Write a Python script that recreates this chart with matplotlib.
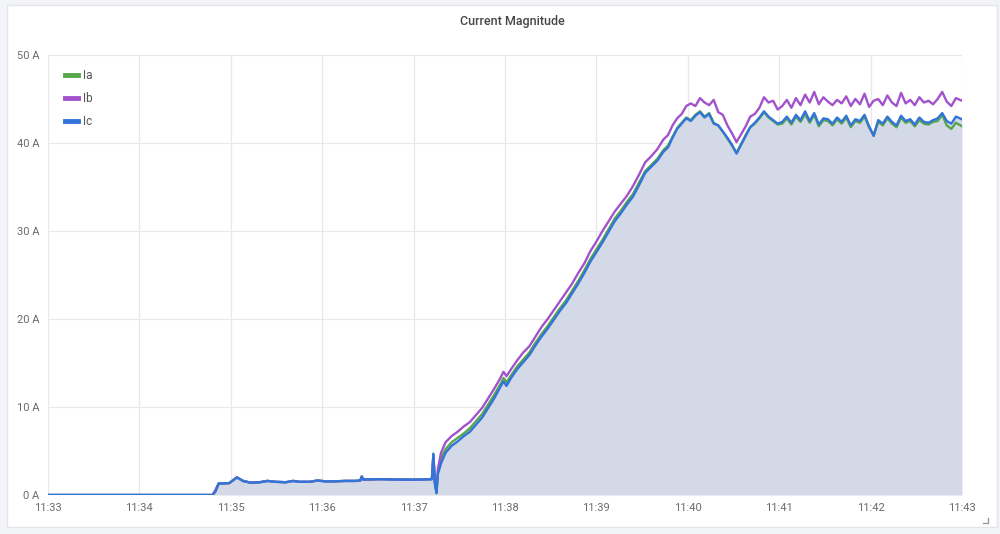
import matplotlib
matplotlib.use("Agg")
import matplotlib.pyplot as plt
from matplotlib.patches import Rectangle

plt.rcParams['font.family'] = ['Roboto', 'DejaVu Sans']

# time in seconds after 11:33:00
t_low = [0, 108, 110, 112, 119, 124, 128, 133, 139, 144, 149, 156, 161, 165, 172, 177,
         182, 188, 195, 202, 205, 206, 207, 218, 231, 244, 252, 253, 254, 255, 256, 258]
ic_low = [0, 0, 0.4, 1.3, 1.35, 2.0, 1.6, 1.4, 1.45, 1.6, 1.5, 1.45, 1.6, 1.5, 1.5, 1.65,
          1.55, 1.55, 1.6, 1.6, 1.65, 2.1, 1.75, 1.8, 1.75, 1.75, 1.8, 4.7, 1.2, 0.2, 2.4, 3.6]
ia_low = [0, 0, 0.5, 1.3, 1.35, 2.0, 1.6, 1.4, 1.45, 1.6, 1.5, 1.45, 1.6, 1.5, 1.5, 1.65,
          1.55, 1.55, 1.6, 1.6, 1.65, 2.1, 1.75, 1.8, 1.75, 1.75, 1.8, 4.6, 1.3, 0.4, 2.7, 4.2]
ib_low = [0, 0, 0.6, 1.3, 1.35, 2.0, 1.6, 1.4, 1.45, 1.6, 1.5, 1.45, 1.6, 1.5, 1.5, 1.65,
          1.55, 1.55, 1.6, 1.6, 1.65, 2.1, 1.75, 1.8, 1.75, 1.75, 1.8, 4.5, 1.4, 0.6, 3.0, 4.8]

t_ramp = [261, 265, 269, 273, 277, 281, 285, 289, 293, 297, 299, 301, 304, 308, 312, 316,
          320, 324, 328, 332, 336, 340, 344, 348, 352, 356, 360, 364, 368, 372, 376, 380,
          384, 388, 392, 396, 400, 404, 407, 410, 413, 416, 419, 422, 425, 428, 431, 434,
          437, 440, 443, 446, 449, 452, 455, 458, 461, 464, 467, 470, 473, 476, 479]
ic_ramp = [4.8, 5.6, 6.1, 6.7, 7.2, 8.0, 8.8, 9.9, 11.0, 12.3, 12.9, 12.4, 13.3, 14.3, 15.1, 15.9,
           17.0, 18.0, 18.9, 19.9, 20.9, 21.8, 22.9, 24.0, 25.2, 26.5, 27.6, 28.7, 29.9, 31.1, 32.0, 33.0,
           33.9, 35.2, 36.6, 37.3, 38.0, 39.0, 39.5, 40.6, 41.6, 42.2, 42.8, 42.5, 43.1, 43.5, 42.9, 43.3,
           42.2, 42.0, 41.3, 40.6, 39.8, 38.8, 39.8, 40.8, 41.8, 42.3, 42.9, 43.6, 43.0, 42.6, 42.2]
ia_ramp = [5.2, 6.0, 6.5, 7.0, 7.6, 8.4, 9.2, 10.3, 11.4, 12.6, 13.3, 12.8, 13.6, 14.6, 15.4, 16.2,
           17.3, 18.3, 19.2, 20.2, 21.2, 22.1, 23.2, 24.3, 25.5, 26.8, 27.9, 29.0, 30.2, 31.4, 32.3, 33.3,
           34.2, 35.5, 36.8, 37.5, 38.2, 39.2, 39.7, 40.7, 41.7, 42.3, 42.9, 42.6, 43.2, 43.6, 43.0, 43.4,
           42.3, 42.0, 41.3, 40.5, 39.7, 38.9, 39.9, 40.9, 41.8, 42.2, 42.8, 43.5, 42.9, 42.5, 42.1]
ib_ramp = [6.0, 6.7, 7.2, 7.8, 8.3, 9.1, 9.9, 11.0, 12.1, 13.3, 14.0, 13.5, 14.3, 15.3, 16.2, 16.9,
           18.0, 19.1, 20.0, 21.0, 22.0, 23.0, 24.0, 25.2, 26.3, 27.7, 28.8, 30.0, 31.1, 32.2, 33.1, 34.0,
           35.1, 36.4, 37.8, 38.5, 39.3, 40.4, 40.9, 42.0, 42.8, 43.3, 44.2, 44.5, 44.2, 45.1, 44.6, 44.3,
           44.9, 43.5, 43.2, 42.0, 41.1, 40.1, 41.0, 41.9, 43.0, 43.3, 44.0, 45.2, 44.6, 44.8, 43.8]

t_flat = [482, 485, 488, 491, 494, 497, 500, 503, 506, 509, 512, 515, 518, 521, 524, 527,
          530, 533, 536, 539, 542, 545, 548, 551, 554, 557, 560, 563, 566, 569, 572, 575,
          578, 581, 584, 587, 590, 593, 596, 600]
ib_flat = [44.2, 44.9, 44.0, 45.1, 44.3, 45.5, 44.6, 45.8, 44.4, 45.2, 44.7, 44.3, 44.9, 44.5, 45.3, 44.2,
           45.0, 44.4, 45.6, 44.1, 44.8, 45.0, 44.3, 45.4, 44.6, 44.2, 45.7, 44.5, 44.9, 44.3, 45.2, 44.6,
           44.8, 44.4, 45.0, 45.8, 44.7, 44.2, 45.1, 44.8]
ic_flat = [42.4, 43.0, 42.3, 43.2, 42.6, 43.6, 42.5, 43.4, 42.1, 42.8, 42.7, 42.2, 42.9, 42.4, 43.1, 42.0,
           42.7, 42.5, 43.2, 41.9, 40.8, 42.6, 42.2, 43.0, 42.4, 42.0, 43.1, 42.5, 42.7, 42.1, 42.9, 42.4,
           42.3, 42.6, 42.8, 43.4, 42.5, 42.2, 43.0, 42.7]
ia_flat = [42.2, 42.8, 42.1, 43.0, 42.4, 43.3, 42.3, 43.2, 41.9, 42.6, 42.5, 42.0, 42.7, 42.2, 42.9, 41.8,
           42.5, 42.3, 43.0, 41.8, 40.9, 42.4, 42.0, 42.8, 42.2, 41.8, 42.9, 42.3, 42.5, 41.9, 42.6, 42.2,
           42.1, 42.4, 42.5, 43.2, 42.0, 41.6, 42.3, 41.9]

t_sec = t_low + t_ramp + t_flat
ia = ia_low + ia_ramp + ia_flat
ib = ib_low + ib_ramp + ib_flat
ic = ic_low + ic_ramp + ic_flat

x_tick_labels = ["11:33", "11:34", "11:35", "11:36", "11:37", "11:38",
                 "11:39", "11:40", "11:41", "11:42", "11:43"]
y_ticks = [0, 10, 20, 30, 40, 50]

fig = plt.figure(figsize=(10, 5.34), dpi=100)
fig.patch.set_facecolor('#f3f4f7')
panel = Rectangle((7/1000, 1 - 527/534), 990/1000, 522/534,
                  transform=fig.transFigure, facecolor='white',
                  edgecolor='#e3e5ea', linewidth=1, zorder=-10)
fig.patches.append(panel)

ax = fig.add_axes([48/1000, 1 - 495/534, 914/1000, 440/534])
ax.set_zorder(1)
ax.set_facecolor('none')

ax.fill_between(t_sec, ic, 0, color='#d4d9e7', linewidth=0, zorder=1)
ax.plot(t_sec, ia, color='#56a64b', lw=1.7, label='Ia', zorder=3)
ax.plot(t_sec, ib, color='#a352cc', lw=1.7, label='Ib', zorder=3)
ax.plot(t_sec, ic, color='#3274d9', lw=1.7, label='Ic', zorder=4)

ax.set_xlim(0, 600)
ax.set_ylim(0, 50)
ax.set_xticks([i * 60 for i in range(len(x_tick_labels))])
ax.set_xticklabels(x_tick_labels)
ax.set_yticks(y_ticks)
ax.set_yticklabels([f"{v} A" for v in y_ticks])
ax.grid(True, color='#e8e8ea', linewidth=0.9, zorder=0)
ax.set_axisbelow(True)
for s in ax.spines.values():
    s.set_visible(False)
ax.tick_params(axis='both', length=0, labelsize=8, colors='#6b6b70')
ax.tick_params(axis='x', pad=6)
ax.tick_params(axis='y', pad=6)

leg = ax.legend(loc='upper left', bbox_to_anchor=(0.013, 0.978), frameon=False,
                handlelength=1.1, handletextpad=0.5, labelspacing=0.85, fontsize=8.5,
                borderaxespad=0.0)
for line in leg.get_lines():
    line.set_linewidth(3.5)
for txt in leg.get_texts():
    txt.set_color('#555555')

fig.text(0.512, 1 - 21/534, "Current Magnitude", ha='center', va='center',
         fontsize=9, color='#464646', fontweight='medium')

# small resize handle at the panel's bottom-right corner
fig.lines.append(plt.Line2D([983/1000, 988/1000, 988/1000],
                            [1 - 523/534, 1 - 523/534, 1 - 518/534],
                            transform=fig.transFigure, color='#9a9aa0', lw=1))

fig.savefig('out.png', dpi=100, facecolor=fig.get_facecolor())
